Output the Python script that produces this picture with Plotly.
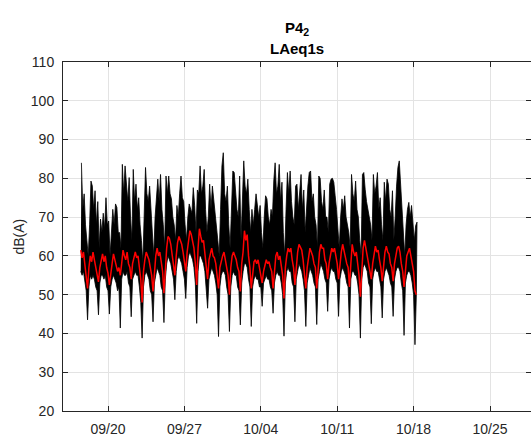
import pandas as pd
import plotly.graph_objects as go

# LAeq1s measurement at point P4_2, 3-hourly samples per day.
first_day = pd.Timestamp("2019-09-17")
sample_hours = [0, 3, 6, 9, 12, 15, 18, 21]
peak_offset_h = 1.5
N = None

# smoothed level (red), one row per day
laeq_smooth = [
    [N, N, N, N, 61.5, 59.5, 61, 58],
    [56, 51.6, 57, 60, 58.5, 61, 59, 57],
    [56, 53.3, 57, 59, 60.5, 58.5, 60, 57],
    [55.5, 52.5, 56, 58, 60.5, 59, 58, 56],
    [57, 55, 58, 61.5, 60, 59, 61, 58],
    [57, 54, 58, 60, 61, 59.5, 60, 57],
    [54, 48, 56, 59, 61, 60, 59, 57],
    [55, 50.8, 57, 60, 62, 60, 61, 58],
    [56, 50.4, 58, 62, 65, 64.5, 63, 60],
    [58, 55, 60, 63.5, 65, 64, 63, 61],
    [59, 56, 61, 64.5, 66.5, 65.5, 64, 62],
    [58, 52.5, 62, 67, 65, 63.5, 64, 61],
    [57, 54, 59, 61, 62, 60, 59.5, 58],
    [55, 51.6, 57, 59, 60, 61, 59, 57],
    [55, 50, 57, 60, 61, 60, 59, 57],
    [56, 50.8, 58, 61, 66.5, 64, 65.5, 60],
    [57, 51.6, 56, 58.5, 59, 58, 59, 57],
    [56, 53, 56, 58, 59, 58, 58.5, 57],
    [56, 51.6, 57, 60, 61, 59, 60, 58],
    [55, 49, 57, 60, 62, 61, 62, 59],
    [57, 52.5, 58, 61, 63, 62, 61.5, 59],
    [56, 51.6, 57, 60, 62, 61, 60, 58],
    [57, 51.6, 58, 61, 63, 62, 62, 59],
    [58, 54, 58, 60, 62, 61, 62, 60],
    [58, 54, 58, 61, 63, 61, 60, 58],
    [57, 52, 58, 63, 61, 60, 61, 58],
    [55, 49.5, 58, 62, 64, 62, 61, 59],
    [57, 54, 58, 61, 62.5, 61, 61.5, 59],
    [57, 53.5, 58, 61, 62.5, 61, 60.5, 58],
    [57, 53.5, 58, 60.5, 62, 62.5, 61, 58],
    [56, 52, 57, 60, 61, 62, 60, 58],
    [56, 51, 50, N, N, N, N, N],
]

# 1 s level: lower values at the sample hours
laeq_low = [
    [N, N, N, N, 56, 55, 56, 53],
    [51, 43.5, 52, 55, 54, 55, 54, 52],
    [51, 44.8, 53, 55, 55, 54, 55, 52],
    [51, 45, 52, 54, 55, 54, 53, 51],
    [52, 41.4, 54, 56, 55, 55, 56, 53],
    [52, 44.3, 54, 55, 56, 55, 55, 52],
    [48, 38.8, 52, 55, 56, 55, 54, 51],
    [50, 43, 53, 55, 57, 56, 55, 52],
    [51, 42.8, 54, 58, 60, 59, 58, 56],
    [54, 48.7, 56, 59, 60, 59, 58, 56],
    [54, 49, 57, 60, 61, 60, 59, 57],
    [53, 42.6, 56, 60, 60, 59, 58, 56],
    [52, 46.5, 54, 56, 57, 56, 55, 53],
    [50, 39.2, 52, 55, 56, 56, 55, 52],
    [50, 40.5, 52, 55, 56, 55, 55, 52],
    [51, 42.2, 53, 56, 58, 58, 57, 54],
    [52, 41.8, 52, 54, 55, 54, 54, 52],
    [52, 47, 53, 54, 55, 54, 54, 52],
    [51, 45.2, 53, 55, 56, 55, 55, 53],
    [50, 39.3, 53, 56, 57, 56, 56, 53],
    [52, 43, 54, 56, 58, 57, 56, 54],
    [51, 41.8, 53, 55, 57, 56, 55, 53],
    [52, 42.3, 54, 56, 58, 57, 56, 54],
    [53, 45.7, 54, 56, 57, 56, 56, 54],
    [53, 44.4, 54, 56, 57, 56, 55, 53],
    [52, 41.4, 54, 56, 56, 55, 55, 53],
    [50, 38.8, 54, 57, 58, 57, 56, 53],
    [52, 42.5, 54, 56, 57, 56, 56, 54],
    [52, 44, 54, 56, 57, 56, 55, 53],
    [52, 44.4, 54, 56, 57, 57, 56, 53],
    [51, 39.5, 53, 55, 56, 56, 55, 53],
    [50, 37.1, 50, N, N, N, N, N],
]

# 1 s level: peak values, 1.5 h after each sample hour
laeq_high = [
    [N, N, N, N, 84, 72, 76, 68],
    [64, 60, 68, 79.3, 78, 72, 76.8, 68],
    [74, 62, 69.5, 66, 71, 67, 75, 68],
    [69, 60, 66, 72, 68, 73.4, 72.5, 66],
    [66, 62, 83.6, 76, 83.2, 78, 74, 80.2],
    [70, 64, 82.3, 74, 78.5, 72, 75, 68],
    [64, 58, 72, 82.8, 76, 74, 78, 69],
    [66, 60, 70, 74.7, 79.8, 74, 81, 72],
    [68, 62, 80.6, 76, 80.6, 76, 74.7, 70],
    [68, 64, 73, 70, 76, 80.6, 75, 74],
    [68, 64, 70, 73.4, 72, 71, 77.6, 73],
    [66, 77, 76, 83.2, 76, 78, 82.3, 72],
    [66, 70, 78.5, 72, 78, 76, 70, 68],
    [64, 60, 72, 83.2, 86.6, 76, 74, 78],
    [68, 62, 74, 81.9, 81.5, 77, 72, 70],
    [80.6, 64, 74, 84.5, 78, 76, 79.8, 72],
    [66, 72, 68, 72, 76, 74, 70, 73],
    [66, 62, 70, 75.5, 74.7, 70, 68, 72],
    [70, 79.3, 84, 76, 78, 83.6, 74, 79],
    [66, 60, 72, 81.5, 76, 81.9, 74, 70],
    [68, 78, 78.5, 72, 76, 81, 72, 77],
    [66, 70, 78, 81.5, 81.9, 74, 76, 70],
    [68, 62, 80.6, 80, 74, 72, 77, 70],
    [70, 66, 78.5, 79.8, 80, 79, 75.5, 72],
    [68, 62, 70, 74.7, 72, 75.5, 70, 68],
    [66, 62, 81, 76, 74, 79.3, 72, 70],
    [64, 60, 81, 81.5, 77.2, 74, 72, 70],
    [68, 64, 81, 76, 78, 81.5, 72, 75],
    [68, 64, 79, 74, 79.8, 78.5, 72, 70],
    [76.8, 64, 70, 78, 82.8, 84.5, 78, 70],
    [66, 60, 68, 72, 73.8, 70, 73, 68],
    [64, 67.8, 68.7, N, N, N, N, N],
]

tick_labels = ["09/20", "09/27", "10/04", "10/11", "10/18", "10/25"]
tick_dates = [pd.Timestamp("2019-" + s.replace("/", "-")) for s in tick_labels]
y_ticks = list(range(20, 111, 10))

low_t, low_v, high_t, high_v, red_t, red_v = [], [], [], [], [], []
for d, (r_row, lo_row, hi_row) in enumerate(zip(laeq_smooth, laeq_low, laeq_high)):
    day = first_day + pd.Timedelta(days=d)
    for h, r, lo, hi in zip(sample_hours, r_row, lo_row, hi_row):
        if r is None:
            continue
        t = day + pd.Timedelta(hours=h)
        red_t.append(t)
        red_v.append(r)
        low_t.append(t)
        low_v.append(lo)
        high_t.append(t + pd.Timedelta(hours=peak_offset_h))
        high_v.append(hi)

# the dense 1 s trace: envelope from the lows forward and the peaks backward
band_t = low_t + high_t[::-1]
band_v = low_v + high_v[::-1]

axis_color = "#262626"
grid_color = "#e3e3e3"
font = dict(family="Liberation Sans, Arial, sans-serif", size=14, color=axis_color)

fig = go.Figure()
fig.add_trace(go.Scatter(x=band_t, y=band_v, mode="lines", fill="toself",
                         fillcolor="black", line=dict(color="black", width=0.8),
                         hoverinfo="skip", showlegend=False))
fig.add_trace(go.Scatter(x=red_t, y=red_v, mode="lines",
                         line=dict(color="#ff0000", width=1.5), hoverinfo="skip",
                         showlegend=False))
fig.add_trace(go.Scatter(x=[], y=[], yaxis="y2", showlegend=False, hoverinfo="skip"))

fig.update_layout(
    width=531, height=437,
    margin=dict(l=63, r=0, t=62, b=24),
    paper_bgcolor="white", plot_bgcolor="white",
    font=font,
    xaxis=dict(
        type="date",
        range=["2019-09-15 21:00", "2019-10-28 18:10"],
        tickvals=tick_dates, ticktext=tick_labels,
        ticks="inside", ticklen=5, tickcolor=axis_color,
        showline=True, linecolor=axis_color, linewidth=1, mirror="ticks",
        showgrid=True, gridcolor=grid_color, zeroline=False,
        ticklabelstandoff=5,
    ),
    yaxis=dict(
        range=[20, 110], tickvals=y_ticks,
        ticks="inside", ticklen=5, tickcolor=axis_color,
        showline=True, linecolor=axis_color, linewidth=1,
        showgrid=True, gridcolor=grid_color, zeroline=False,
        ticklabelstandoff=5,
    ),
    yaxis2=dict(
        overlaying="y", side="right", range=[20, 110], tickvals=y_ticks,
        ticks="inside", ticklen=5, tickcolor=axis_color,
        showticklabels=False, showline=False, showgrid=False, zeroline=False,
    ),
    annotations=[
        dict(text="<b>P4<sub>2</sub></b>", xref="paper", yref="paper",
             x=0.5, y=1.097, xanchor="center", yanchor="middle",
             showarrow=False, font=dict(size=15, color="black")),
        dict(text="<b>LAeq1s</b>", xref="paper", yref="paper",
             x=0.5, y=1.04, xanchor="center", yanchor="middle",
             showarrow=False, font=dict(size=15, color="black")),
        dict(text="dB(A)", xref="paper", yref="paper",
             x=-0.096, y=0.5, xanchor="center", yanchor="middle",
             textangle=-90, showarrow=False,
             font=dict(size=14, color=axis_color)),
    ],
)

fig.write_html("out.html")
